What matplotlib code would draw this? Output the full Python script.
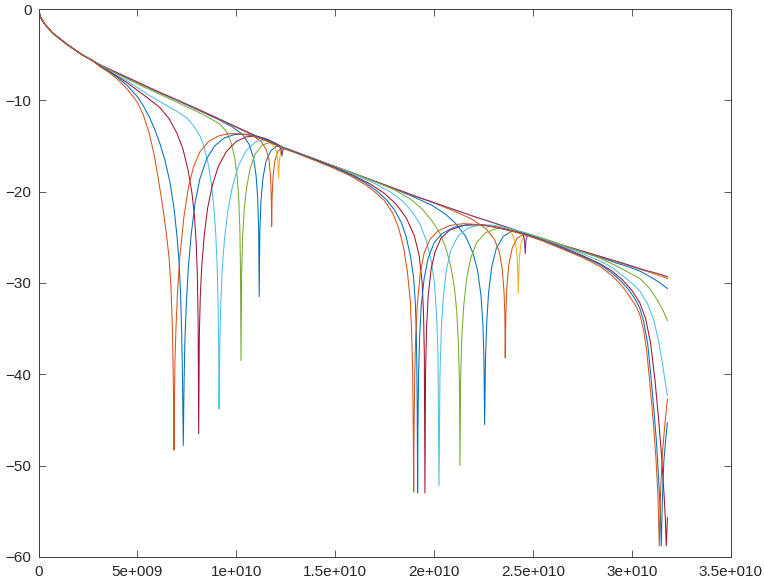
import matplotlib
matplotlib.use("Agg")
import matplotlib.pyplot as plt

# frequency in units of 1e9, level in dB
start_x = [0, 0.1, 0.3, 0.7, 1.4, 2.2, 2.7]
start_y = [0, -0.9, -1.6, -2.6, -3.8, -5.0, -5.6]

c1_x = [3.1, 4.0, 5.0, 6.0, 7.0, 8.0, 9.0, 9.8, 10.3, 10.65, 10.87, 11.0, 11.08, 11.13, 11.16, 11.19, 11.25,
        11.35, 11.5, 11.75, 12.05, 12.4, 13.0, 14.0, 15.0, 16.0, 17.0, 18.0, 19.0, 19.9, 20.6, 21.1, 21.6, 21.95,
        22.2, 22.37, 22.47, 22.52, 22.56, 22.6, 22.66, 22.76, 22.92, 23.15, 23.5, 23.95, 24.4, 24.8, 25.5, 26.5,
        27.5, 28.4, 29.2, 29.8, 30.41, 31.0, 31.4, 31.8]
c1_y = [-6.1, -7.05, -8.05, -9.05, -10.0, -11.0, -12.0, -12.9, -13.7, -14.8, -16.3, -18.2, -20.6, -24, -31.5,
        -24.5, -21, -18.5, -16.7, -15.5, -15.0, -15.15, -15.65, -16.45, -17.25, -18.05, -18.85, -19.7, -20.6,
        -21.5, -22.5, -23.5, -24.9, -26.6, -28.6, -31.3, -34.5, -38, -45.5, -38.5, -34.5, -31, -28.2, -26.2,
        -24.9, -24.3, -24.4, -24.7, -25.2, -25.9, -26.6, -27.2, -27.8, -28.2, -28.7, -29.4, -29.95, -30.6]

c2_x = [3.1, 4.0, 5.0, 6.0, 7.0, 8.0, 9.0, 10.0, 10.8, 11.25, 11.5, 11.65, 11.73, 11.77, 11.79, 11.81, 11.86,
        11.95, 12.1, 12.3, 12.6, 13.0, 14.0, 15.0, 16.0, 17.0, 18.0, 19.0, 20.0, 21.0, 21.9, 22.6, 23.05, 23.3,
        23.45, 23.54, 23.58, 23.6, 23.63, 23.68, 23.78, 23.95, 24.2, 24.5, 24.8, 25.5, 26.5, 27.5, 28.5, 29.5,
        30.5, 31.2, 31.8]
c2_y = [-6.1, -7.0, -8.0, -9.0, -9.95, -10.95, -11.95, -12.95, -13.8, -14.5, -15.3, -16.4, -18.3, -20.5, -23.8,
        -20.7, -18.3, -16.6, -15.6, -15.2, -15.35, -15.65, -16.45, -17.25, -18.05, -18.85, -19.65, -20.45, -21.25,
        -22.1, -23.0, -24.0, -25.2, -26.6, -28.5, -31, -33.5, -38.2, -33.5, -30.5, -28, -26.2, -25.1, -24.7,
        -24.75, -25.2, -25.9, -26.55, -27.2, -27.85, -28.55, -29.05, -29.5]

c3_x = [3.1, 4.0, 5.0, 6.0, 7.0, 8.0, 9.0, 10.0, 11.0, 11.6, 11.9, 12.03, 12.1, 12.14, 12.18, 12.25, 12.4, 12.7,
        13.0, 14.0, 15.0, 16.0, 17.0, 18.0, 19.0, 20.0, 21.0, 22.0, 23.0, 23.6, 23.95, 24.12, 24.21, 24.26, 24.31,
        24.4, 24.55, 24.8, 25.5, 26.5, 27.5, 28.5, 29.5, 30.5, 31.2, 31.8]
c3_y = [-6.1, -7.0, -8.0, -9.0, -9.95, -10.9, -11.9, -12.9, -13.9, -14.5, -15.0, -15.6, -16.6, -18.5, -16.6,
        -15.6, -15.2, -15.4, -15.65, -16.45, -17.25, -18.05, -18.85, -19.65, -20.45, -21.2, -21.95, -22.7, -23.4,
        -24.0, -24.6, -25.6, -27.3, -31.1, -27.3, -25.6, -24.9, -24.75, -25.2, -25.9, -26.5, -27.15, -27.8,
        -28.5, -29.0, -29.4]

c4_x = [3.1, 4.0, 5.0, 6.0, 7.0, 8.0, 9.0, 10.0, 11.0, 12.0, 12.2, 12.27, 12.31, 12.35, 12.42, 12.6, 13.0, 14.0,
        15.0, 16.0, 17.0, 18.0, 19.0, 20.0, 21.0, 22.0, 23.0, 24.0, 24.3, 24.5, 24.57, 24.61, 24.65, 24.72, 24.9,
        25.5, 26.5, 27.5, 28.5, 29.5, 30.5, 31.2, 31.8]
c4_y = [-6.1, -7.0, -8.0, -9.0, -9.95, -10.9, -11.9, -12.9, -13.9, -14.85, -15.1, -15.5, -16.1, -15.5, -15.25,
        -15.35, -15.65, -16.45, -17.25, -18.05, -18.85, -19.65, -20.45, -21.2, -21.95, -22.7, -23.4, -24.1,
        -24.35, -24.6, -25.3, -26.8, -25.3, -24.8, -24.85, -25.15, -25.85, -26.5, -27.15, -27.8, -28.5, -28.9,
        -29.3]

c5_x = [3.1, 4.0, 5.0, 6.0, 7.0, 8.0, 8.7, 9.18, 9.5, 9.75, 9.93, 10.05, 10.13, 10.18, 10.21, 10.24, 10.27,
        10.32, 10.4, 10.52, 10.7, 10.95, 11.3, 11.7, 12.1, 12.4, 13.0, 14.0, 15.0, 16.0, 17.0, 18.0, 18.8, 19.4,
        19.9, 20.3, 20.6, 20.85, 21.03, 21.15, 21.23, 21.28, 21.31, 21.34, 21.4, 21.5, 21.65, 21.85, 22.15, 22.6,
        23.2, 23.9, 24.7, 25.5, 26.5, 27.5, 28.4, 29.2, 29.8, 30.41, 30.9, 31.3, 31.6, 31.8]
c5_y = [-6.12, -7.15, -8.2, -9.2, -10.2, -11.2, -12.0, -12.6, -13.4, -14.7, -16.4, -18.5, -21, -24, -28, -38.5,
        -29, -25, -22, -19.6, -17.5, -15.9, -14.9, -14.6, -14.8, -15.15, -15.65, -16.45, -17.25, -18.05, -18.9,
        -19.8, -20.8, -21.9, -23.2, -24.6, -26.2, -28.2, -30.5, -33.2, -36.5, -40.5, -50, -41, -36, -32.5, -29.5,
        -27.3, -25.6, -24.5, -24.0, -24.1, -24.55, -25.1, -25.85, -26.6, -27.3, -28.1, -28.8, -29.5, -30.6,
        -31.9, -33.1, -34.1]

c6_x = [3.1, 3.6, 4.0, 4.5, 5.0, 5.5, 6.0, 6.5, 7.0, 7.49, 7.85, 8.17, 8.4, 8.6, 8.75, 8.87, 8.96, 9.03, 9.08,
        9.11, 9.13, 9.16, 9.21, 9.29, 9.4, 9.57, 9.8, 10.1, 10.5, 11.0, 11.5, 12.0, 12.3, 13.0, 14.0, 15.0, 16.0,
        17.0, 17.77, 18.4, 18.9, 19.3, 19.6, 19.85, 20.02, 20.13, 20.2, 20.25, 20.3, 20.37, 20.47, 20.63, 20.85,
        21.2, 21.7, 22.4, 23.1, 23.9, 24.7, 25.5, 26.5, 27.5, 28.4, 29.0, 29.6, 30.1, 30.41, 30.8, 31.1, 31.35,
        31.55, 31.67, 31.8]
c6_y = [-6.15, -6.8, -7.3, -7.9, -8.6, -9.3, -9.95, -10.6, -11.2, -11.9, -12.8, -13.9, -15.3, -17.2, -19.3,
        -21.8, -24.5, -28, -32.5, -37, -43.8, -37.5, -32.5, -28.5, -25.3, -22.2, -19.5, -17.2, -15.5, -14.5,
        -14.3, -14.7, -15.1, -15.65, -16.45, -17.3, -18.15, -19.1, -20.0, -21.0, -22.2, -23.6, -25.3, -27.5,
        -30, -33.5, -38, -52.2, -40, -35, -31.5, -28.5, -26.4, -24.9, -24.0, -23.6, -23.7, -24.1, -24.6, -25.2,
        -26.0, -26.8, -27.6, -28.3, -29.3, -30.2, -30.9, -32.3, -34.0, -36.3, -38.8, -40.6, -42.3]

c7_x = [3.1, 3.6, 4.0, 4.5, 5.0, 5.5, 6.14, 6.6, 7.0, 7.3, 7.55, 7.75, 7.88, 7.97, 8.03, 8.07, 8.10, 8.13, 8.18,
        8.26, 8.38, 8.55, 8.8, 9.1, 9.5, 10.0, 10.5, 11.0, 11.5, 11.9, 12.3, 13.0, 14.0, 15.0, 16.0, 16.8, 17.5,
        18.1, 18.6, 19.0, 19.25, 19.4, 19.47, 19.51, 19.54, 19.57, 19.62, 19.7, 19.85, 20.05, 20.35, 20.8, 21.5,
        22.3, 23.1, 24.0, 24.7, 25.5, 26.5, 27.5, 28.4, 29.0, 29.5, 30.0, 30.41, 30.7, 30.95, 31.17, 31.35, 31.5,
        31.62, 31.7, 31.74, 31.78, 31.8]
c7_y = [-6.2, -6.85, -7.4, -8.1, -8.9, -9.7, -10.8, -12.0, -13.6, -15.3, -17.5, -20.0, -22.5, -25.5, -29, -34,
        -46.5, -36, -31.5, -28, -24.8, -21.8, -19.2, -17.2, -15.6, -14.5, -14.0, -13.9, -14.2, -14.6, -15.15,
        -15.7, -16.5, -17.35, -18.3, -19.2, -20.2, -21.4, -22.9, -24.8, -27, -30, -33.5, -38, -53, -40, -35,
        -31.5, -28.5, -26.6, -25.1, -24.2, -23.7, -23.6, -23.85, -24.3, -24.7, -25.3, -26.1, -27.0, -27.9, -28.7,
        -29.6, -30.8, -32.2, -33.9, -36.6, -40.6, -44.8, -48.8, -52.8, -56, -58.8, -57, -55.7]

c8_x = [3.1, 3.6, 4.0, 4.5, 5.0, 5.3, 5.6, 5.9, 6.15, 6.4, 6.65, 6.85, 7.0, 7.1, 7.18, 7.24, 7.28, 7.32, 7.36,
        7.4, 7.47, 7.57, 7.72, 7.92, 8.16, 8.5, 8.9, 9.4, 9.9, 10.4, 10.9, 11.4, 11.9, 12.3, 13.0, 14.0, 15.0,
        15.8, 16.5, 17.1, 17.6, 18.0, 18.35, 18.6, 18.82, 18.97, 19.05, 19.1, 19.13, 19.15, 19.17, 19.19, 19.22,
        19.27, 19.35, 19.5, 19.7, 20.0, 20.4, 21.0, 21.7, 22.5, 23.3, 24.0, 24.7, 25.5, 26.5, 27.5, 28.4, 29.0,
        29.5, 29.9, 30.2, 30.41, 30.6, 30.8, 30.97, 31.1, 31.25, 31.37, 31.44, 31.49, 31.54, 31.62, 31.72, 31.8]
c8_y = [-6.25, -6.9, -7.5, -8.4, -9.6, -10.6, -11.8, -13.3, -14.8, -16.6, -19.0, -21.8, -24.8, -27.5, -31,
        -35.5, -40.5, -47.8, -41, -36.5, -32.5, -28.5, -24.7, -21.2, -18.6, -16.4, -15.0, -14.1, -13.75, -13.7,
        -13.85, -14.2, -14.7, -15.15, -15.7, -16.55, -17.4, -18.2, -19.0, -19.9, -20.9, -22.0, -23.4, -25.0,
        -27.2, -29.5, -32, -35, -39, -44, -53, -45, -40, -36, -32.5, -29.5, -27.3, -25.6, -24.6, -23.9, -23.6,
        -23.65, -24.0, -24.35, -24.75, -25.35, -26.2, -27.1, -28.0, -28.9, -29.9, -30.9, -31.9, -32.8, -34.2,
        -36.6, -40.3, -43.5, -47.5, -52.0, -55, -58.8, -54, -49.5, -47, -45.3]

c9_x = [3.1, 3.6, 4.0, 4.5, 5.0, 5.3, 5.6, 5.85, 6.05, 6.25, 6.45, 6.6, 6.7, 6.77, 6.8, 6.83, 6.85, 6.87, 6.9,
        6.95, 7.03, 7.15, 7.35, 7.6, 7.85, 8.17, 8.6, 9.1, 9.6, 10.1, 10.6, 11.1, 11.6, 12.3, 13.0, 14.0, 15.0,
        15.8, 16.5, 17.0, 17.5, 17.9, 18.2, 18.45, 18.65, 18.8, 18.87, 18.92, 18.95, 18.97, 18.99, 19.02, 19.07,
        19.15, 19.3, 19.5, 19.8, 20.2, 20.8, 21.5, 22.3, 23.1, 23.9, 24.7, 25.5, 26.5, 27.5, 28.4, 29.0, 29.5,
        29.9, 30.2, 30.41, 30.6, 30.75, 30.87, 30.98, 31.1, 31.22, 31.32, 31.39, 31.45, 31.55, 31.68, 31.8]
c9_y = [-6.3, -7.0, -7.7, -8.8, -10.2, -11.6, -13.6, -16.0, -18.5, -21.2, -24.3, -27.2, -30.5, -35, -38.5, -43,
        -48.3, -43, -38.5, -35, -31, -27, -22.8, -19.3, -17.2, -15.6, -14.5, -13.9, -13.65, -13.65, -13.8, -14.1,
        -14.5, -15.2, -15.75, -16.6, -17.5, -18.3, -19.2, -20.0, -21.0, -22.3, -23.9, -26.0, -28.7, -32, -35.5,
        -40, -46, -52.9, -46, -40.5, -36, -32.5, -29, -26.7, -25.2, -24.3, -23.7, -23.5, -23.6, -23.9, -24.3,
        -24.8, -25.4, -26.3, -27.2, -28.2, -29.2, -30.3, -31.5, -32.5, -33.5, -35.2, -37.4, -40.0, -42.6, -45.6,
        -49.2, -53.2, -58.8, -53, -48.5, -45.3, -42.7]

curves_x = [c1_x, c2_x, c3_x, c4_x, c5_x, c6_x, c7_x, c8_x, c9_x]
curves_y = [c1_y, c2_y, c3_y, c4_y, c5_y, c6_y, c7_y, c8_y, c9_y]
colors = ['#0072BD', '#D95319', '#EDB120', '#7E2F8E', '#77AC30', '#4DBEEE', '#A2142F', '#0072BD', '#D95319']

xticks = [0, 5e9, 1e10, 1.5e10, 2e10, 2.5e10, 3e10, 3.5e10]
xtick_labels = ['0', '5e+009', '1e+010', '1.5e+010', '2e+010', '2.5e+010', '3e+010', '3.5e+010']
yticks = [-60, -50, -40, -30, -20, -10, 0]

plt.rcParams['font.family'] = ['Liberation Sans', 'DejaVu Sans']
fig = plt.figure(figsize=(7.64, 5.86), dpi=100)
ax = fig.add_axes([0.0504, 0.0497, 0.906, 0.9348])

for xs, ys, c in zip(curves_x, curves_y, colors):
    fx = [v * 1e9 for v in start_x + xs]
    ax.plot(fx, start_y + ys, color=c, lw=0.75)

ax.set_xlim(0, 3.5e10)
ax.set_ylim(-60, 0)
ax.set_xticks(xticks)
ax.set_xticklabels(xtick_labels)
ax.set_yticks(yticks)
ax.tick_params(direction='in', length=5, width=0.6, colors='#404040', labelcolor='#262626',
               labelsize=11, top=True, right=True)
ax.tick_params(axis='x', pad=6)
ax.tick_params(axis='y', pad=5)
for s in ax.spines.values():
    s.set_color('#404040')
    s.set_linewidth(0.7)

fig.savefig('out.png', dpi=100)
